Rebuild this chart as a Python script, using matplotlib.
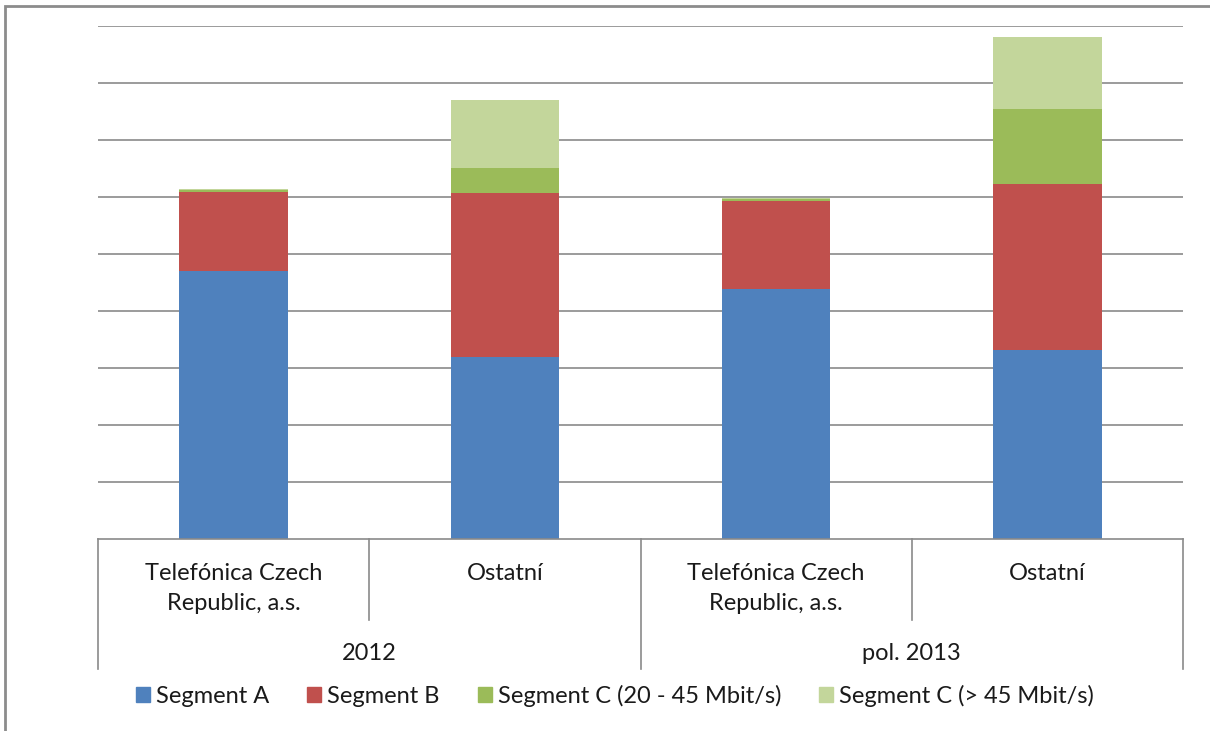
import matplotlib
matplotlib.use("Agg")
import matplotlib.pyplot as plt
from matplotlib.patches import Rectangle
import numpy as np

plt.rcParams['font.family'] = ['Lato', 'DejaVu Sans']

categories = ["Telefónica Czech\nRepublic, a.s.", "Ostatní", "Telefónica Czech\nRepublic, a.s.", "Ostatní"]
groups = ["2012", "pol. 2013"]
series_names = ["Segment A", "Segment B", "Segment C (20 - 45 Mbit/s)", "Segment C (> 45 Mbit/s)"]
seg_a = [4.70, 3.19, 4.39, 3.32]
seg_b = [1.39, 2.88, 1.54, 2.91]
seg_c1 = [0.04, 0.44, 0.03, 1.31]
seg_c2 = [0.01, 1.19, 0.02, 1.27]
colors = ["#4F81BD", "#C0504D", "#9BBB59", "#C3D69B"]

W, H = 1210, 731
fig = plt.figure(figsize=(W/100, H/100), dpi=100)
fig.patch.set_facecolor("white")

# outer frame
fig.add_artist(Rectangle((5/W, -0.1), 1.2, (H-6)/H + 0.1, transform=fig.transFigure,
                         fill=False, edgecolor="#8c8c8c", linewidth=2))

x0, x1, y0, y1 = 98, 1183, 539, 26
ax = fig.add_axes([x0/W, 1 - y0/H, (x1-x0)/W, (y0-y1)/H])
ax.set_xlim(-0.5, 3.5)
ax.set_ylim(0, 9)
for s in ax.spines.values():
    s.set_visible(False)
ax.set_xticks([])
ax.set_yticks(np.arange(1, 10))
ax.tick_params(axis='y', length=0, labelleft=False)
ax.yaxis.grid(True, color="#8a8a8a", linewidth=1.2)
ax.set_axisbelow(True)

x = np.arange(4)
bw = 0.4
bottom = np.zeros(4)
for vals, col, name in zip([seg_a, seg_b, seg_c1, seg_c2], colors, series_names):
    ax.bar(x, vals, bw, bottom=bottom, color=col, label=name, zorder=3)
    bottom += np.array(vals)

# category axis lines
tr = ax.get_xaxis_transform()
ax.plot([-0.5, 3.5], [0, 0], transform=tr, color="#8a8a8a", lw=1.2, clip_on=False, zorder=4)
def yax(px):
    return (y0 - px) / (y0 - y1)
for xb, ybot in [(-0.5, 669), (0.5, 620), (1.5, 669), (2.5, 620), (3.5, 669)]:
    ax.plot([xb, xb], [0, yax(ybot)], transform=tr, color="#8a8a8a", lw=1.2, clip_on=False)
for xi, c in zip(x, categories):
    ax.text(xi, yax(563), c, transform=tr, ha="center", va="top", fontsize=17, color="#1a1a1a",
            linespacing=1.55)
for gi, g in enumerate(groups):
    ax.text(gi*2 + 0.5, yax(653), g, transform=tr, ha="center", va="center", fontsize=17, color="#1a1a1a")

handles = [Rectangle((0, 0), 1, 1, color=c) for c in colors]
fig.legend(handles, series_names, loc="center", bbox_to_anchor=(615/W, 1 - 696/H), ncol=4,
           frameon=False, fontsize=17, handlelength=0.6, handleheight=0.6, handletextpad=0.25,
           columnspacing=1.6, labelcolor="#1a1a1a")

fig.savefig("out.png", dpi=100)
